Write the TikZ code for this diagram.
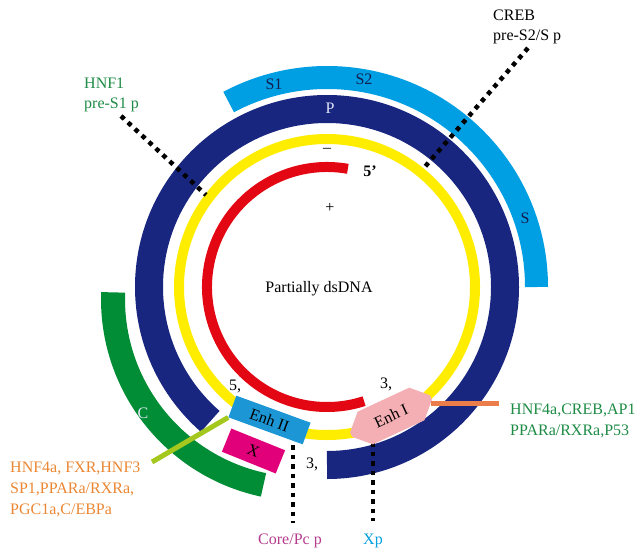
\documentclass[tikz,border=0pt]{standalone}
\usepackage{fontspec}
\setmainfont{Liberation Serif}
\usetikzlibrary{shapes.misc}
\definecolor{sblue}{RGB}{0,159,227}
\definecolor{navyp}{RGB}{24,38,128}
\definecolor{yel}{RGB}{255,237,0}
\definecolor{redp}{RGB}{227,6,19}
\definecolor{greenc}{RGB}{0,141,54}
\definecolor{enhblue}{RGB}{28,150,212}
\definecolor{magx}{RGB}{226,0,122}
\definecolor{pinke}{RGB}{244,175,180}
\definecolor{orline}{RGB}{235,125,75}
\definecolor{ygline}{RGB}{165,200,30}
\definecolor{gtxt}{RGB}{30,140,70}
\definecolor{otxt}{RGB}{235,135,50}
\definecolor{cptxt}{RGB}{180,60,140}
\definecolor{xptxt}{RGB}{0,160,225}
\definecolor{paletxt}{RGB}{225,230,245}
\definecolor{darktxt}{RGB}{20,30,80}
\begin{document}
\begin{tikzpicture}[x=1pt,y=1pt,
  every node/.style={font=\fontsize{16pt}{21pt}\selectfont, inner sep=0pt},
  dotline/.style={black, line width=4.5pt, dash pattern=on 4.5pt off 5pt},
  lbl/.style={anchor=base west},
  boxnode/.style={draw=none, inner sep=0pt}
]
\fill[white] (0,0) rectangle (644,-559);
\useasboundingbox (0,0) rectangle (644,-559);
\coordinate (O) at (327,-287);
\coordinate (G) at (303,-299);
% rings
\draw[sblue, line width=23pt] ([shift={(0:209.5pt)}]O) arc[start angle=0, end angle=118, radius=209.5pt];
\draw[navyp, line width=28pt] ([shift={(-90:178pt)}]O) arc[start angle=-90, end angle=229, radius=178pt];
\draw[yel, line width=10pt] (O) circle[radius=148pt];
\draw[redp, line width=10pt] ([shift={(80:120pt)}]O) arc[start angle=80, end angle=288, radius=120pt];
\draw[greenc, line width=24pt] ([shift={(178:190pt)}]G) arc[start angle=178, end angle=258, radius=190pt];
% promoter dotted lines (upper)
\coordinate (h1a) at (121,-116);
\coordinate (h1b) at (206,-195);
\draw[dotline] (h1a) -- (h1b);
\coordinate (c1a) at (528,-48);
\coordinate (c1b) at (423,-169);
\draw[dotline] (c1a) -- (c1b);
% lower dotted lines
\coordinate (cpa) at (293,-445);
\coordinate (cpb) at (293,-523);
\draw[dotline] (cpa) -- (cpb);
\coordinate (xpa) at (373,-442);
\coordinate (xpb) at (373,-521);
\draw[dotline] (xpa) -- (xpb);
% boxes
\node[boxnode, fill=magx, rotate=-22, minimum width=58pt, minimum height=25pt] (xbox) at (253.5,-451) {X};
\node[boxnode, fill=enhblue, rotate=-20, minimum width=79pt, minimum height=23pt] (enh2) at (269.5,-420) {Enh II};
\node[boxnode, chamfered rectangle, chamfered rectangle xsep=10pt, chamfered rectangle ysep=10pt, fill=pinke, rotate=25, minimum width=88pt, minimum height=36pt] (enh1) at (391,-416) {Enh I};
% connector lines to factor lists
\coordinate (oend) at (499,-403);
\draw[orline, line width=5pt] (enh1.east |- oend) -- (oend);
\coordinate (yend) at (152,-462);
\draw[ygline, line width=5pt] (enh2.south west) -- (yend);
% labels
\node[lbl, text=gtxt] (hnf1a) at (84,-88.5) {HNF1};
\node[lbl, text=gtxt] (hnf1b) at (84,-108.5) {pre-S1 p};
\node[lbl] (creba) at (493,-20.5) {CREB};
\node[lbl] (crebb) at (493,-40.5) {pre-S2/S p};
\node[lbl, text=gtxt] (tfr1) at (510,-414.5) {HNF4a,CREB,AP1};
\node[lbl, text=gtxt] (tfr2) at (510,-435.5) {PPARa/RXRa,P53};
\node[lbl, text=otxt] (tfl1) at (10,-472.5) {HNF4a, FXR,HNF3};
\node[lbl, text=otxt] (tfl2) at (10,-493.5) {SP1,PPARa/RXRa,};
\node[lbl, text=otxt] (tfl3) at (10,-514.5) {PGC1a,C/EBPa};
\node[anchor=base, text=cptxt] (corep) at (290,-544.5) {Core/Pc p};
\node[anchor=base, text=xptxt] (xp) at (373,-544.5) {Xp};
\node[anchor=base] (dsdna) at (319,-292.5) {Partially dsDNA};
\node (minus) at (327,-150) {--};
\node (plus) at (330,-208) {+};
\node[anchor=base, font=\fontsize{16pt}{21pt}\selectfont\bfseries] (fivep) at (370,-176) {5’};
\node[anchor=base] (five) at (235,-390) {5,};
\node[anchor=base] (threea) at (386,-388) {3,};
\node[anchor=base] (threeb) at (312,-468) {3,};
\node[text=paletxt] (plbl) at (330,-108) {P};
\node[text=paletxt] (clbl) at (143,-413) {C};
\node[text=darktxt] (s1lbl) at (274,-84) {S1};
\node[text=darktxt] (s2lbl) at (364,-79) {S2};
\node[text=darktxt] (slbl) at (525,-218) {S};
\end{tikzpicture}
\end{document}
